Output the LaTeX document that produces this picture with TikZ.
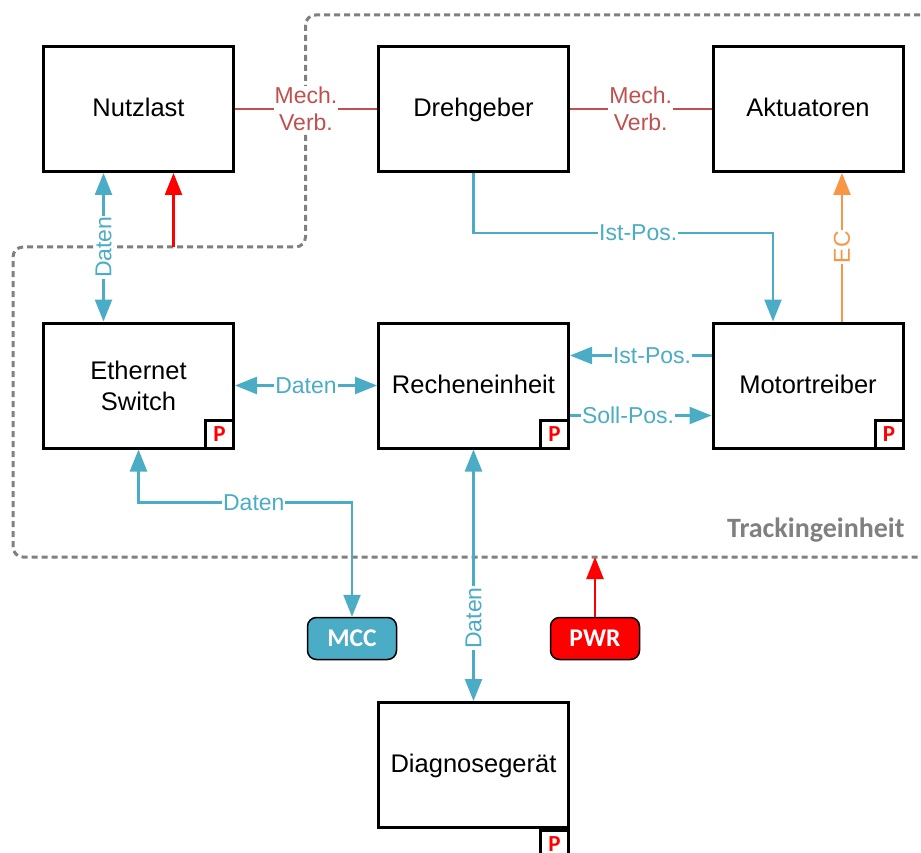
\documentclass[tikz,border=0pt]{standalone}
\usepackage{fontspec}
\setmainfont{Liberation Sans}
\newfontfamily\carlito{Carlito}
\usetikzlibrary{arrows.meta}

\definecolor{datablue}{HTML}{4BACC6}
\definecolor{mechred}{HTML}{C0504D}
\definecolor{ecorange}{HTML}{F79646}
\definecolor{framegray}{HTML}{808080}

\tikzset{
  block/.style={draw, line width=3pt, minimum width=190pt, minimum height=125pt, inner sep=0pt, align=center, font=\fontsize{25.5}{31}\selectfont},
  oneline/.style={block, text height=18.5pt, text depth=3pt},
  pbox/.style={draw, fill=white, line width=3pt, minimum size=28pt, inner sep=0pt, text=red, font=\carlito\bfseries\fontsize{23}{25}\selectfont},
  term/.style={draw, line width=1.5pt, rounded corners=9pt, minimum width=89pt, minimum height=42pt, inner sep=0pt, text=white, font=\carlito\bfseries\fontsize{25.5}{28}\selectfont},
  lbl/.style={fill=white, inner sep=1pt, align=center, font=\fontsize{23}{27}\selectfont},
  data/.style={datablue, line width=2.5pt, arrows={-Triangle[length=22pt, width=17pt]}},
  both/.style={arrows={Triangle[length=22pt, width=17pt]-Triangle[length=22pt, width=17pt]}},
  mech/.style={mechred, line width=2.5pt},
  feed/.style={red, line width=2.5pt, arrows={-Triangle[length=22pt, width=17pt]}},
}

\begin{document}
\begin{tikzpicture}[x=1pt, y=-1pt]
\useasboundingbox (0,0) rectangle (921,853);

% Tracking unit frame
\draw[framegray, line width=3pt, dash pattern=on 6pt off 4pt, rounded corners=10pt]
  (940,15) -- (305.5,15) -- (305.5,247) -- (13,247) -- (13,557) -- (940,557);
\node[anchor=base east, text=framegray, font=\carlito\bfseries\fontsize{28}{34}\selectfont] (tracklbl) at (908,537) {Trackingeinheit};

% Blocks
\node[oneline] (nutzlast) at (138.5,109) {Nutzlast};
\node[oneline] (drehgeber) at (473.5,109) {Drehgeber};
\node[oneline] (aktuatoren) at (808,109) {Aktuatoren};
\node[block] (switch) at (138.5,385.5) {Ethernet\\Switch};
\node[oneline] (rechen) at (473.5,385.5) {Recheneinheit};
\node[oneline] (motor) at (808,385.5) {Motortreiber};
\node[oneline] (diag) at (473.5,765) {Diagnosegerät};

% P markers
\node[pbox, anchor=south east] (pswitch) at (switch.south east) {P};
\node[pbox, anchor=south east] (prechen) at (rechen.south east) {P};
\node[pbox, anchor=south east] (pmotor) at (motor.south east) {P};
\node[pbox, anchor=north east] (pdiag) at (diag.south east) {P};

% Terminals
\node[term, fill=datablue] (mcc) at (352,638.5) {MCC};
\node[term, fill=red] (pwr) at (595,638.5) {PWR};

% Mechanical links
\draw[mech] (nutzlast) -- node[lbl, text=mechred] (mech1) {Mech.\\Verb.} (drehgeber);
\draw[mech] (drehgeber) -- node[lbl, text=mechred] (mech2) {Mech.\\Verb.} (aktuatoren);

% Data links
\draw[data, both] ([xshift=-35pt]nutzlast.south) -- node[lbl, text=datablue, rotate=90] (d1) {Daten} ([xshift=-35pt]switch.north);
\draw[data] (drehgeber.south) -- ++(0,60) -| node[lbl, text=datablue, pos=0.275] (ist1) {Ist-Pos.} ([xshift=-35pt]motor.north);
\draw[data, both] (switch) -- node[lbl, text=datablue] (d2) {Daten} (rechen);
\draw[data] ([yshift=30pt]motor.west) -- node[lbl, text=datablue, pos=0.42] (ist2) {Ist-Pos.} ([yshift=30pt]rechen.east);
\draw[data] ([yshift=-30pt]rechen.east) -- node[lbl, text=datablue, pos=0.41] (soll) {Soll-Pos.} ([yshift=-30pt]motor.west);
\draw[data, both] (switch.south) -- ++(0,53) -| node[lbl, text=datablue, pos=0.27] (d3) {Daten} (mcc.north);
\draw[data, both] (rechen) -- node[lbl, text=datablue, rotate=90, pos=0.67] (d4) {Daten} (diag);

% EC link
\draw[data, ecorange] ([xshift=34pt]motor.north) -- node[lbl, text=ecorange, rotate=90] (ec) {EC} ([xshift=34pt]aktuatoren.south);

% Power feeds
\coordinate (nutzfeed) at (173.5,247);
\draw[feed] (nutzfeed) -- (nutzfeed |- nutzlast.south);
\coordinate (pwrfeed) at (595,557);
\draw[feed] (pwr) -- (pwrfeed);

\end{tikzpicture}
\end{document}
